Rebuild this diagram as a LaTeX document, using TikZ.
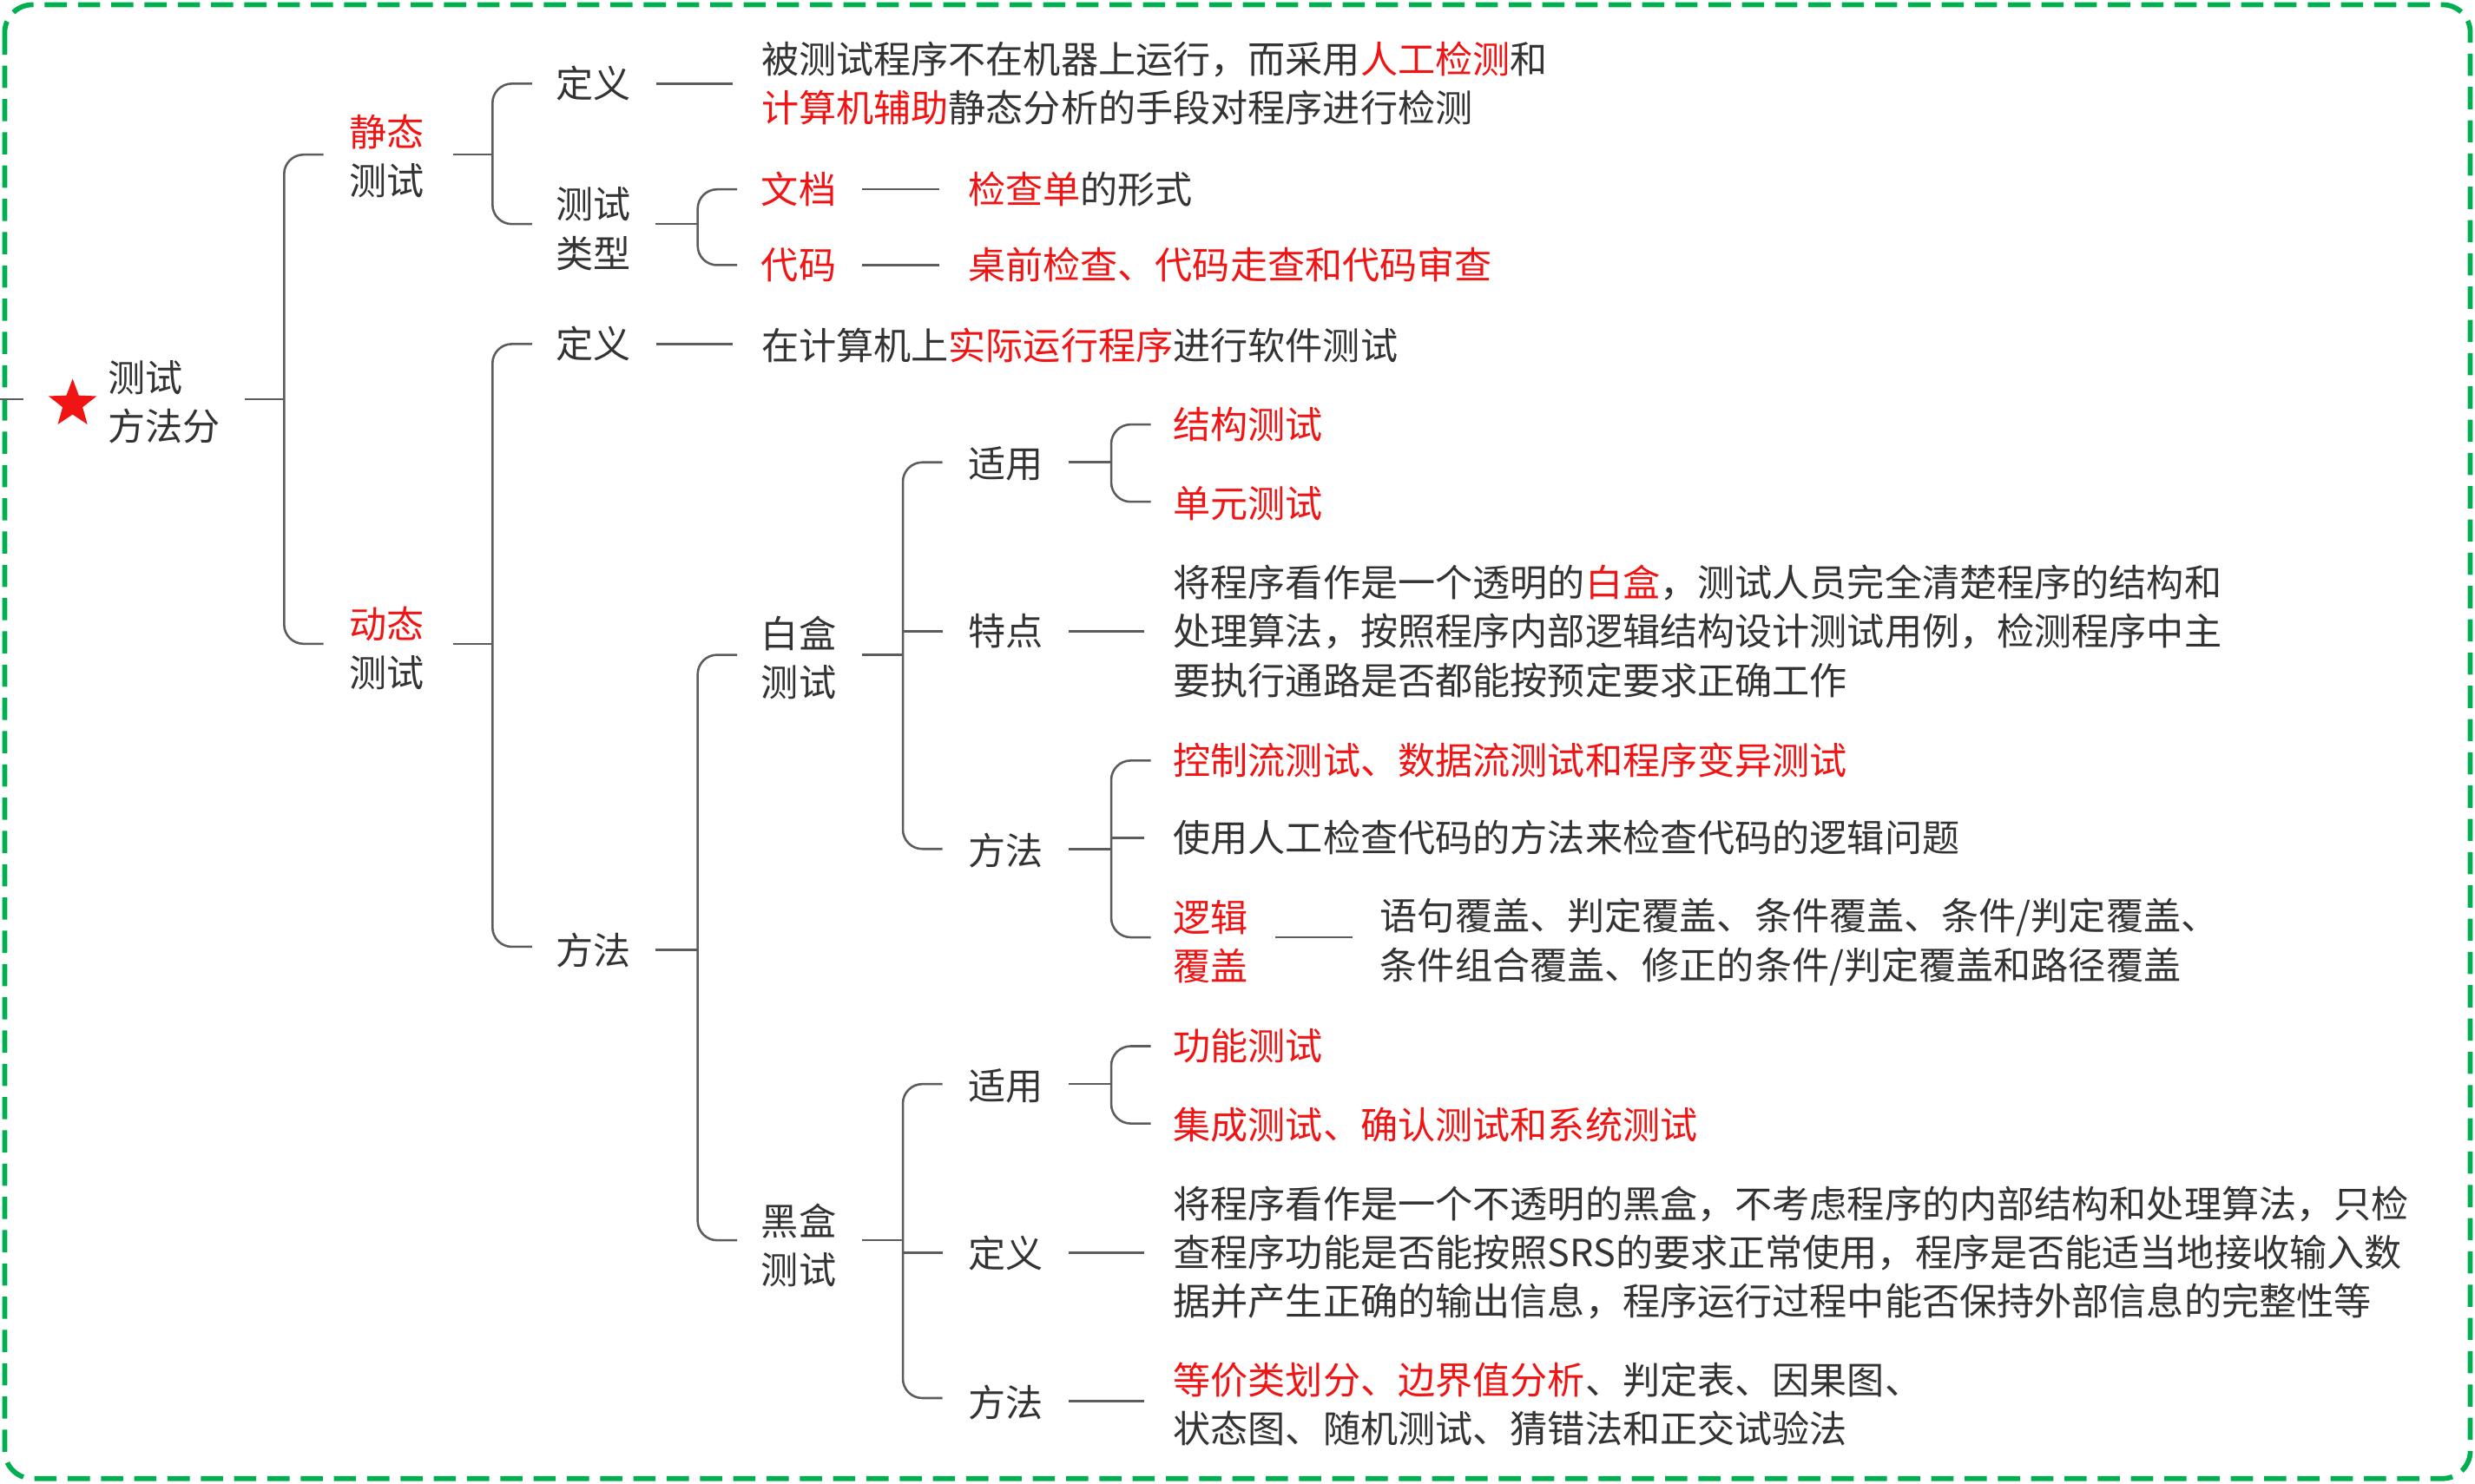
\documentclass[tikz,border=0pt]{standalone}
\usepackage{fontspec}
\setmainfont{Noto Sans CJK SC}
\usetikzlibrary{shapes.geometric}
\definecolor{rd}{RGB}{240,20,20}
\definecolor{tx}{RGB}{51,51,51}
\definecolor{gr}{RGB}{0,176,80}
\newcommand{\rd}[1]{\textcolor{rd}{#1}}
\tikzset{
 t/.style={anchor=west,inner sep=0pt,text=tx,font=\fontsize{13.5pt}{17.6pt}\selectfont,align=left},
 c/.style={inner sep=0pt,text=tx,font=\fontsize{13.5pt}{17.6pt}\selectfont,align=center},
 ln/.style={draw=tx!80,line width=0.8pt},
}
\newcommand{\brk}[3]{\draw[ln,rounded corners=7pt] (#1+25,#2) -- (#1,#2) -- (#1,#3) -- (#1+25,#3);}
\begin{document}
\begin{tikzpicture}[x=0.02cm,y=-0.02cm]
\useasboundingbox (0,0) rectangle (1568,940);
\draw[gr,dashed,line width=1.8pt,rounded corners=10pt,dash pattern=on 8pt off 4pt] (3,3) rectangle (1565,937);
% root
\node[star,star points=5,star point ratio=2.4,fill=rd,minimum size=32*0.02cm,inner sep=0pt] (st) at (46,256) {};
\node[t] (root) at (68,255) {测试\\方法分};
\draw[ln] (0,253) -- (15,253);
\draw[ln] (155,253) -- (180,253);
\brk{180}{98}{408}
% static
\node[c] (jt) at (245,99) {\rd{静态}\\测试};
\draw[ln] (287,98) -- (312,98);
\brk{312}{53}{142}
\node[c] (jdy) at (376,53) {定义};
\draw[ln] (416,53) -- (464,53);
\node[t] (jdt) at (482,53) {被测试程序不在机器上运行，而采用\rd{人工检测}和\\\rd{计算机辅助}静态分析的手段对程序进行检测};
\node[c] (lx) at (376,145) {测试\\类型};
\draw[ln] (415,142) -- (442,142);
\brk{442}{120}{168}
\node[c] (wd) at (506,120) {\rd{文档}};
\draw[ln] (546,120) -- (595,120);
\node[t] (wdt) at (613,120) {\rd{检查单}的形式};
\node[c] (dm) at (506,168) {\rd{代码}};
\draw[ln] (546,168) -- (595,168);
\node[t] (dmt) at (613,168) {\rd{桌前检查、代码走查和代码审查}};
% dynamic
\node[c] (dt) at (245,411) {\rd{动态}\\测试};
\draw[ln] (287,408) -- (312,408);
\brk{312}{218}{600}
\node[c] (ddy) at (376,218) {定义};
\draw[ln] (416,218) -- (464,218);
\node[t] (ddt) at (482,219) {在计算机上\rd{实际运行程序}进行软件测试};
\node[c] (ff) at (376,602) {方法};
\draw[ln] (415,602) -- (442,602);
\brk{442}{415}{786}
% white box
\node[c] (bh) at (506,417) {白盒\\测试};
\draw[ln] (546,415) -- (572,415);
\brk{572}{293}{538}
\node[c] (sy1) at (637,294) {适用};
\draw[ln] (677,293) -- (704,293);
\brk{704}{269}{318}
\node[t] (a1) at (743,269) {\rd{结构测试}};
\node[t] (a2) at (743,319) {\rd{单元测试}};
\node[c] (td) at (637,400) {特点};
\draw[ln] (677,400) -- (725,400);
\draw[ln] (572,400) -- (597,400);
\node[t] (tdt) at (743,400) {将程序看作是一个透明的\rd{白盒}，测试人员完全清楚程序的结构和\\处理算法，按照程序内部逻辑结构设计测试用例，检测程序中主\\要执行通路是否都能按预定要求正确工作};
\node[c] (ff1) at (637,539) {方法};
\draw[ln] (677,538) -- (704,538);
\brk{704}{482}{594}
\draw[ln] (704,531) -- (725,531);
\node[t] (m1) at (743,482) {\rd{控制流测试、数据流测试和程序变异测试}};
\node[t] (m2) at (743,531) {使用人工检查代码的方法来检查代码的逻辑问题};
\node[c] (lj) at (767,597) {\rd{逻辑}\\\rd{覆盖}};
\draw[ln] (808,594) -- (857,594);
\node[t] (ljt) at (874,597) {语句覆盖、判定覆盖、条件覆盖、条件/判定覆盖、\\条件组合覆盖、修正的条件/判定覆盖和路径覆盖};
% black box
\node[c] (hh) at (506,789) {黑盒\\测试};
\draw[ln] (546,786) -- (572,786);
\brk{572}{687}{886}
\node[c] (sy2) at (637,688) {适用};
\draw[ln] (677,687) -- (704,687);
\brk{704}{663}{712}
\node[t] (b1) at (743,663) {\rd{功能测试}};
\node[t] (b2) at (743,713) {\rd{集成测试、确认测试和系统测试}};
\node[c] (dy2) at (637,794) {定义};
\draw[ln] (677,794) -- (725,794);
\draw[ln] (572,794) -- (597,794);
\node[t] (dy2t) at (743,794) {将程序看作是一个不透明的黑盒，不考虑程序的内部结构和处理算法，只检\\查程序功能是否能按照SRS的要求正常使用，程序是否能适当地接收输入数\\据并产生正确的输出信息，程序运行过程中能否保持外部信息的完整性等};
\node[c] (ff2) at (637,889) {方法};
\draw[ln] (677,888) -- (725,888);
\node[t] (ff2t) at (743,890) {\rd{等价类划分、边界值分析}、判定表、因果图、\\状态图、随机测试、猜错法和正交试验法};
\end{tikzpicture}
\end{document}
